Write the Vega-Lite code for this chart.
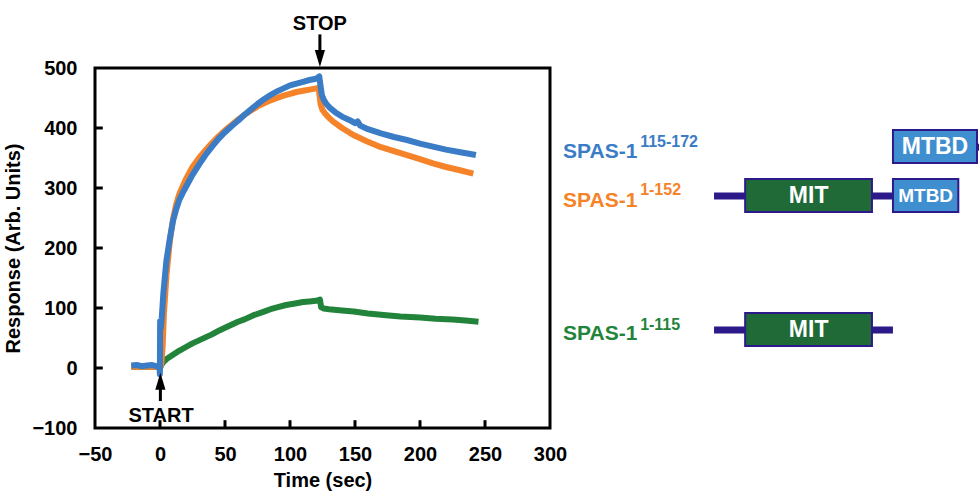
{
  "$schema": "https://vega.github.io/schema/vega-lite/v6.json",
  "background": "white",
  "padding": {"left": 2, "top": 12, "right": 0, "bottom": 0},
  "spacing": 10,
  "bounds": "flush",
  "config": {
    "font": "Liberation Sans",
    "view": {"stroke": null},
    "text": {"font": "Liberation Sans", "fontWeight": "bold"}
  },
  "datasets": {
    "curves": [
      {"series": "1-115", "t": -22, "v": 2}, {"series": "1-115", "t": -10, "v": 2}, {"series": "1-115", "t": -1, "v": 2}, {"series": "1-115", "t": 0, "v": 0},
      {"series": "1-115", "t": 1, "v": 5}, {"series": "1-115", "t": 2.6, "v": 10}, {"series": "1-115", "t": 5, "v": 15}, {"series": "1-115", "t": 10, "v": 22},
      {"series": "1-115", "t": 15, "v": 29}, {"series": "1-115", "t": 20, "v": 35}, {"series": "1-115", "t": 25, "v": 41}, {"series": "1-115", "t": 30, "v": 46},
      {"series": "1-115", "t": 35, "v": 51}, {"series": "1-115", "t": 40, "v": 56}, {"series": "1-115", "t": 46, "v": 63}, {"series": "1-115", "t": 50, "v": 67},
      {"series": "1-115", "t": 55, "v": 72}, {"series": "1-115", "t": 60, "v": 77}, {"series": "1-115", "t": 65, "v": 81}, {"series": "1-115", "t": 72, "v": 88},
      {"series": "1-115", "t": 80, "v": 94}, {"series": "1-115", "t": 85, "v": 98}, {"series": "1-115", "t": 90, "v": 101}, {"series": "1-115", "t": 97, "v": 105},
      {"series": "1-115", "t": 105, "v": 108}, {"series": "1-115", "t": 110, "v": 110}, {"series": "1-115", "t": 115, "v": 111}, {"series": "1-115", "t": 120, "v": 112},
      {"series": "1-115", "t": 123, "v": 114}, {"series": "1-115", "t": 124, "v": 101}, {"series": "1-115", "t": 126, "v": 99}, {"series": "1-115", "t": 130, "v": 98},
      {"series": "1-115", "t": 140, "v": 96}, {"series": "1-115", "t": 149, "v": 94}, {"series": "1-115", "t": 160, "v": 91}, {"series": "1-115", "t": 174, "v": 88},
      {"series": "1-115", "t": 185, "v": 86}, {"series": "1-115", "t": 200, "v": 84}, {"series": "1-115", "t": 212, "v": 82}, {"series": "1-115", "t": 225, "v": 81},
      {"series": "1-115", "t": 235, "v": 79}, {"series": "1-115", "t": 245, "v": 77},
      {"series": "1-152", "t": -22, "v": 2}, {"series": "1-152", "t": -10, "v": 2}, {"series": "1-152", "t": -1, "v": 2}, {"series": "1-152", "t": 0, "v": 0},
      {"series": "1-152", "t": 1, "v": 6}, {"series": "1-152", "t": 2, "v": 35}, {"series": "1-152", "t": 3, "v": 90}, {"series": "1-152", "t": 5, "v": 155},
      {"series": "1-152", "t": 7.5, "v": 210}, {"series": "1-152", "t": 10, "v": 248}, {"series": "1-152", "t": 12.5, "v": 273}, {"series": "1-152", "t": 15, "v": 291},
      {"series": "1-152", "t": 20, "v": 315}, {"series": "1-152", "t": 25, "v": 335}, {"series": "1-152", "t": 30, "v": 350}, {"series": "1-152", "t": 35, "v": 363},
      {"series": "1-152", "t": 40, "v": 375}, {"series": "1-152", "t": 45, "v": 386}, {"series": "1-152", "t": 50, "v": 396}, {"series": "1-152", "t": 55, "v": 405},
      {"series": "1-152", "t": 60, "v": 414}, {"series": "1-152", "t": 65, "v": 422}, {"series": "1-152", "t": 70, "v": 429}, {"series": "1-152", "t": 75, "v": 436},
      {"series": "1-152", "t": 80, "v": 441}, {"series": "1-152", "t": 85, "v": 446}, {"series": "1-152", "t": 90, "v": 450}, {"series": "1-152", "t": 95, "v": 454},
      {"series": "1-152", "t": 100, "v": 457}, {"series": "1-152", "t": 105, "v": 460}, {"series": "1-152", "t": 110, "v": 462}, {"series": "1-152", "t": 115, "v": 464},
      {"series": "1-152", "t": 120, "v": 466}, {"series": "1-152", "t": 122, "v": 467}, {"series": "1-152", "t": 123.5, "v": 440}, {"series": "1-152", "t": 125, "v": 430},
      {"series": "1-152", "t": 127, "v": 424}, {"series": "1-152", "t": 130, "v": 417}, {"series": "1-152", "t": 133, "v": 411}, {"series": "1-152", "t": 140, "v": 400},
      {"series": "1-152", "t": 146, "v": 392}, {"series": "1-152", "t": 150, "v": 387}, {"series": "1-152", "t": 159, "v": 378}, {"series": "1-152", "t": 170, "v": 368},
      {"series": "1-152", "t": 185, "v": 358}, {"series": "1-152", "t": 200, "v": 348}, {"series": "1-152", "t": 210, "v": 341}, {"series": "1-152", "t": 220, "v": 335},
      {"series": "1-152", "t": 230, "v": 330}, {"series": "1-152", "t": 241, "v": 324},
      {"series": "115-172", "t": -22, "v": 4}, {"series": "115-172", "t": -18, "v": 5}, {"series": "115-172", "t": -14, "v": 3}, {"series": "115-172", "t": -10, "v": 4},
      {"series": "115-172", "t": -6, "v": 5}, {"series": "115-172", "t": -3, "v": 3}, {"series": "115-172", "t": -0.4, "v": 4}, {"series": "115-172", "t": -0.1, "v": -10},
      {"series": "115-172", "t": 0.1, "v": 78}, {"series": "115-172", "t": 0.6, "v": 66}, {"series": "115-172", "t": 1.3, "v": 82}, {"series": "115-172", "t": 2.6, "v": 125},
      {"series": "115-172", "t": 4, "v": 158}, {"series": "115-172", "t": 5, "v": 180}, {"series": "115-172", "t": 7.5, "v": 215}, {"series": "115-172", "t": 10, "v": 245},
      {"series": "115-172", "t": 12.5, "v": 265}, {"series": "115-172", "t": 15, "v": 281}, {"series": "115-172", "t": 17.5, "v": 292}, {"series": "115-172", "t": 20, "v": 302},
      {"series": "115-172", "t": 25, "v": 322}, {"series": "115-172", "t": 30, "v": 339}, {"series": "115-172", "t": 35, "v": 355}, {"series": "115-172", "t": 40, "v": 369},
      {"series": "115-172", "t": 45, "v": 382}, {"series": "115-172", "t": 50, "v": 393}, {"series": "115-172", "t": 55, "v": 403}, {"series": "115-172", "t": 60, "v": 412},
      {"series": "115-172", "t": 65, "v": 422}, {"series": "115-172", "t": 70, "v": 431}, {"series": "115-172", "t": 75, "v": 440}, {"series": "115-172", "t": 80, "v": 448},
      {"series": "115-172", "t": 85, "v": 455}, {"series": "115-172", "t": 90, "v": 461}, {"series": "115-172", "t": 95, "v": 466}, {"series": "115-172", "t": 100, "v": 471},
      {"series": "115-172", "t": 105, "v": 474}, {"series": "115-172", "t": 110, "v": 477}, {"series": "115-172", "t": 115, "v": 480}, {"series": "115-172", "t": 120, "v": 482},
      {"series": "115-172", "t": 122.5, "v": 486}, {"series": "115-172", "t": 123.5, "v": 470}, {"series": "115-172", "t": 124.5, "v": 455}, {"series": "115-172", "t": 126, "v": 447},
      {"series": "115-172", "t": 128, "v": 440}, {"series": "115-172", "t": 131, "v": 433}, {"series": "115-172", "t": 135, "v": 426}, {"series": "115-172", "t": 140, "v": 419},
      {"series": "115-172", "t": 146, "v": 413}, {"series": "115-172", "t": 150, "v": 408}, {"series": "115-172", "t": 152, "v": 411}, {"series": "115-172", "t": 154, "v": 404},
      {"series": "115-172", "t": 160, "v": 398}, {"series": "115-172", "t": 170, "v": 391}, {"series": "115-172", "t": 180, "v": 385}, {"series": "115-172", "t": 190, "v": 380},
      {"series": "115-172", "t": 200, "v": 374}, {"series": "115-172", "t": 210, "v": 369}, {"series": "115-172", "t": 220, "v": 364}, {"series": "115-172", "t": 230, "v": 360},
      {"series": "115-172", "t": 243, "v": 355}
    ],
    "arrows": [
      {"event": "STOP", "t": 123, "y1": 556, "y2": 516, "head": 516, "dir": "down", "lt": 123, "lv": 563},
      {"event": "START", "t": 0.3, "y1": -55, "y2": -22, "head": -22, "dir": "up", "lt": 0.8, "lv": -90}
    ],
    "xticks": [{"t": 0}, {"t": 50}, {"t": 100}, {"t": 150}, {"t": 200}, {"t": 250}],
    "yticks": [{"v": 0}, {"v": 100}, {"v": 200}, {"v": 300}, {"v": 400}],
    "rows": [
      {"series": "115-172", "y": 350, "supy": 368, "sup": "115-172"},
      {"series": "1-152", "y": 268, "supy": 288, "sup": "1-152"},
      {"series": "1-115", "y": 46.7, "supy": 64, "sup": "1-115"}
    ],
    "linkers": [
      {"construct": "1-152", "x": 0, "x2": 115, "y": 286.7},
      {"construct": "1-115", "x": 0, "x2": 115, "y": 63.3},
      {"construct": "115-172", "x": 160, "x2": 175, "y": 368}
    ],
    "boxes": [
      {"construct": "115-172", "domain": "MTBD", "x": 115, "x2": 169, "xm": 142, "y": 396.7, "y2": 341.7, "ym": 369, "small": false},
      {"construct": "1-152", "domain": "MIT", "x": 20, "x2": 101.5, "xm": 60.8, "y": 315, "y2": 260, "ym": 287, "small": false},
      {"construct": "1-152", "domain": "MTBD", "x": 115, "x2": 157, "xm": 136, "y": 315, "y2": 260, "ym": 287, "small": true},
      {"construct": "1-115", "domain": "MIT", "x": 20, "x2": 101.5, "xm": 60.8, "y": 91.7, "y2": 36.7, "ym": 64, "small": false}
    ]
  },
  "hconcat": [
    {
      "width": 455,
      "height": 360,
      "view": {"stroke": "black", "strokeWidth": 3},
      "layer": [
        {
          "data": {"name": "curves"},
          "mark": {"type": "line", "strokeJoin": "round"},
          "encoding": {
            "x": {
              "field": "t", "type": "quantitative",
              "scale": {"domain": [-50, 300], "nice": false, "zero": false},
              "axis": {
                "title": "Time (sec)", "values": [-50, 0, 50, 100, 150, 200, 250, 300],
                "domain": false, "grid": false, "ticks": false,
                "labelFont": "Liberation Sans", "labelFontWeight": "bold", "labelFontSize": 20, "labelColor": "black",
                "labelPadding": 16, "labelFlush": false, "labelOverlap": false,
                "titleFont": "Liberation Sans", "titleFontWeight": "bold", "titleFontSize": 20, "titleColor": "black", "titlePadding": 6
              }
            },
            "y": {
              "field": "v", "type": "quantitative",
              "scale": {"domain": [-100, 500], "nice": false, "zero": false},
              "axis": {
                "title": "Response (Arb. Units)", "values": [-100, 0, 100, 200, 300, 400, 500],
                "domain": false, "grid": false, "ticks": false,
                "labelFont": "Liberation Sans", "labelFontWeight": "bold", "labelFontSize": 20, "labelColor": "black",
                "labelPadding": 18, "labelFlush": false, "labelOverlap": false,
                "titleFont": "Liberation Sans", "titleFontWeight": "bold", "titleFontSize": 20, "titleColor": "black", "titlePadding": 8
              }
            },
            "color": {
              "field": "series", "type": "nominal",
              "scale": {"domain": ["1-115", "1-152", "115-172"], "range": ["#22843a", "#f5832a", "#3a7cc6"]},
              "legend": null
            },
            "size": {
              "field": "series", "type": "nominal",
              "scale": {"domain": ["1-115", "1-152", "115-172"], "range": [6, 6, 7]},
              "legend": null
            }
          }
        },
        {
          "data": {"name": "xticks"},
          "mark": {"type": "rule", "strokeWidth": 3, "color": "black"},
          "encoding": {
            "x": {"field": "t", "type": "quantitative"},
            "y": {"datum": -100},
            "y2": {"datum": -87}
          }
        },
        {
          "data": {"name": "yticks"},
          "mark": {"type": "rule", "strokeWidth": 3, "color": "black"},
          "encoding": {
            "y": {"field": "v", "type": "quantitative"},
            "x": {"datum": -50},
            "x2": {"datum": -44}
          }
        },
        {
          "data": {"name": "arrows"},
          "mark": {"type": "rule", "strokeWidth": 3, "color": "black"},
          "encoding": {
            "x": {"field": "t", "type": "quantitative"},
            "y": {"field": "y1", "type": "quantitative"},
            "y2": {"field": "y2"}
          }
        },
        {
          "data": {"name": "arrows"},
          "mark": {"type": "point", "filled": true, "color": "black", "opacity": 1, "size": 289},
          "encoding": {
            "x": {"field": "t", "type": "quantitative"},
            "y": {"field": "head", "type": "quantitative"},
            "shape": {
              "field": "dir", "type": "nominal",
              "scale": {"domain": ["down", "up"], "range": ["M-0.6,-1L0.6,-1L0,1Z", "M-0.6,1L0.6,1L0,-1Z"]},
              "legend": null
            }
          }
        },
        {
          "data": {"name": "arrows"},
          "mark": {"type": "text", "fontSize": 20, "fontWeight": "bold", "align": "center", "baseline": "alphabetic", "color": "black"},
          "encoding": {
            "x": {"field": "lt", "type": "quantitative"},
            "y": {"field": "lv", "type": "quantitative"},
            "text": {"field": "event"}
          }
        }
      ]
    },
    {
      "width": 419,
      "height": 360,
      "view": {"stroke": null},
      "layer": [
        {
          "data": {"name": "linkers"},
          "mark": {"type": "rule", "strokeWidth": 7, "color": "#2d1a8a"},
          "encoding": {
            "x": {"field": "x", "type": "quantitative", "scale": {"domain": [-99, 170.3], "nice": false, "zero": false}, "axis": null},
            "x2": {"field": "x2"},
            "y": {"field": "y", "type": "quantitative", "scale": {"domain": [-100, 500], "nice": false, "zero": false}, "axis": null}
          }
        },
        {
          "data": {"name": "boxes"},
          "mark": {"type": "rect", "stroke": "#2d1a8a", "strokeWidth": 2, "opacity": 1},
          "encoding": {
            "x": {"field": "x", "type": "quantitative"},
            "x2": {"field": "x2"},
            "y": {"field": "y", "type": "quantitative"},
            "y2": {"field": "y2"},
            "fill": {
              "field": "domain", "type": "nominal",
              "scale": {"domain": ["MIT", "MTBD"], "range": ["#1f6a37", "#3f8fd0"]},
              "legend": null
            }
          }
        },
        {
          "data": {"name": "boxes"},
          "transform": [{"filter": "!datum.small"}],
          "mark": {"type": "text", "fontSize": 23, "fontWeight": "bold", "color": "white", "align": "center", "baseline": "middle"},
          "encoding": {
            "x": {"field": "xm", "type": "quantitative"},
            "y": {"field": "ym", "type": "quantitative"},
            "text": {"field": "domain"}
          }
        },
        {
          "data": {"name": "boxes"},
          "transform": [{"filter": "datum.small"}],
          "mark": {"type": "text", "fontSize": 19, "fontWeight": "bold", "color": "white", "align": "center", "baseline": "middle"},
          "encoding": {
            "x": {"field": "xm", "type": "quantitative"},
            "y": {"field": "ym", "type": "quantitative"},
            "text": {"field": "domain"}
          }
        },
        {
          "data": {"name": "rows"},
          "mark": {"type": "text", "fontSize": 21, "fontWeight": "bold", "align": "left", "baseline": "alphabetic"},
          "encoding": {
            "x": {"datum": -97},
            "y": {"field": "y", "type": "quantitative"},
            "text": {"value": "SPAS-1"},
            "color": {
              "field": "series", "type": "nominal",
              "scale": {"domain": ["1-115", "1-152", "115-172"], "range": ["#22843a", "#f5832a", "#3a7cc6"]},
              "legend": null
            }
          }
        },
        {
          "data": {"name": "rows"},
          "mark": {"type": "text", "fontSize": 16, "fontWeight": "bold", "align": "left", "baseline": "alphabetic"},
          "encoding": {
            "x": {"datum": -47.5},
            "y": {"field": "supy", "type": "quantitative"},
            "text": {"field": "sup"},
            "color": {
              "field": "series", "type": "nominal",
              "scale": {"domain": ["1-115", "1-152", "115-172"], "range": ["#22843a", "#f5832a", "#3a7cc6"]},
              "legend": null
            }
          }
        }
      ]
    }
  ]
}
